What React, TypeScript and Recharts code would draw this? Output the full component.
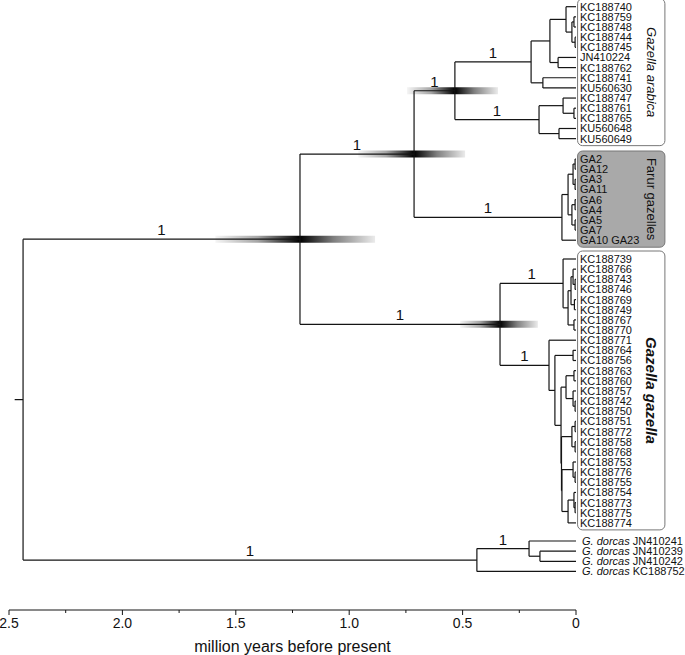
import React from "react";
import { ComposedChart, XAxis, YAxis, ReferenceLine, ReferenceArea, Scatter } from "recharts";

// tip labels, top to bottom
const arabicaTips = ["KC188740", "KC188759", "KC188748", "KC188744", "KC188745", "JN410224", "KC188762", "KC188741", "KU560630", "KC188747", "KC188761", "KC188765", "KU560648", "KU560649"];
const farurTips = ["GA2", "GA12", "GA3", "GA11", "GA6", "GA4", "GA5", "GA7", "GA10 GA23"];
const gazellaTips = ["KC188739", "KC188766", "KC188743", "KC188746", "KC188769", "KC188749", "KC188767", "KC188770", "KC188771", "KC188764", "KC188756", "KC188763", "KC188760", "KC188757", "KC188742", "KC188750", "KC188751", "KC188772", "KC188758", "KC188768", "KC188753", "KC188776", "KC188755", "KC188754", "KC188773", "KC188775", "KC188774"];
const dorcasTips = ["JN410241", "JN410239", "JN410242", "KC188752"];

// internal nodes: id, age (million years before present), children
const nodes: [string, number, string[]][] = [
  ["root", 2.438, ["A", "dor"]],
  ["A", 1.217, ["B", "gaz"]],
  ["B", 0.714, ["ara", "far"]],
  ["ara", 0.534, ["ara1", "ara2"]],
  ["ara1", 0.198, ["ara1a", "ara1b"]],
  ["ara1a", 0.115, ["ara1a1", "ara1a2"]],
  ["ara1a1", 0.044, ["KC188740", "ara1a1x"]],
  ["ara1a1x", 0.018, ["ara1s1", "ara1s2"]],
  ["ara1s1", 0.009, ["KC188759", "KC188748"]],
  ["ara1s2", 0.004, ["KC188744", "KC188745"]],
  ["ara1a2", 0.079, ["JN410224", "KC188762"]],
  ["ara1b", 0.146, ["KC188741", "KU560630"]],
  ["ara2", 0.163, ["ara2a", "ara2b"]],
  ["ara2a", 0.057, ["KC188747", "ara2a1"]],
  ["ara2a1", 0.009, ["KC188761", "KC188765"]],
  ["ara2b", 0.075, ["KU560648", "KU560649"]],
  ["far", 0.062, ["far1", "GA10 GA23"]],
  ["far1", 0.035, ["far1a", "far1b"]],
  ["far1a", 0.013, ["far2", "far3"]],
  ["far2", 0.004, ["GA2", "GA12"]],
  ["far3", 0.004, ["GA3", "GA11"]],
  ["far1b", 0.018, ["far4", "far5"]],
  ["far4", 0.004, ["GA6", "GA4"]],
  ["far5", 0.004, ["GA5", "GA7"]],
  ["gaz", 0.335, ["gz1", "gz2"]],
  ["gz1", 0.057, ["KC188739", "gz1a"]],
  ["gz1a", 0.035, ["gz1b", "gz1c"]],
  ["gz1b", 0.022, ["gz1b1", "gz1b2"]],
  ["gz1b1", 0.013, ["KC188766", "gz1b1x"]],
  ["gz1b1x", 0.004, ["KC188743", "KC188746"]],
  ["gz1b2", 0.007, ["KC188769", "KC188749"]],
  ["gz1c", 0.009, ["KC188767", "KC188770"]],
  ["gz2", 0.119, ["KC188771", "gz2a"]],
  ["gz2a", 0.093, ["gz2a1", "gz2b"]],
  ["gz2a1", 0.013, ["KC188764", "KC188756"]],
  ["gz2b", 0.066, ["gz2c", "gz2d"]],
  ["gz2c", 0.044, ["gz2c1", "gz2c2"]],
  ["gz2c1", 0.009, ["KC188763", "KC188760"]],
  ["gz2c2", 0.013, ["KC188757", "gz2c3"]],
  ["gz2c3", 0.004, ["KC188742", "KC188750"]],
  ["gz2d", 0.064, ["gz2e", "gz2f"]],
  ["gz2e", 0.018, ["gz2e1", "gz2e2"]],
  ["gz2e1", 0.004, ["KC188751", "KC188772"]],
  ["gz2e2", 0.004, ["KC188758", "KC188768"]],
  ["gz2f", 0.062, ["gz2g", "gz2h"]],
  ["gz2g", 0.013, ["KC188753", "gz2g1"]],
  ["gz2g1", 0.004, ["KC188776", "KC188755"]],
  ["gz2h", 0.035, ["gz2h1", "KC188774"]],
  ["gz2h1", 0.009, ["KC188754", "gz2h2"]],
  ["gz2h2", 0.004, ["KC188773", "KC188775"]],
  ["dor", 0.437, ["dor1", "KC188752"]],
  ["dor1", 0.207, ["JN410241", "dor2"]],
  ["dor2", 0.159, ["JN410239", "JN410242"]],
];
const rootStemAge = 2.475;

// posterior support on the branch leading to each node
const supportNodes = ["A", "dor", "B", "gaz", "ara", "far", "ara1", "ara2", "gz1", "gz2", "dor1"];
const supportValues = [1, 1, 1, 1, 1, 1, 1, 1, 1, 1, 1];

// 95% HPD of node ages
const hpdNodes = ["A", "B", "ara", "gaz"];
const hpdUpper = [1.59, 0.96, 0.745, 0.511];
const hpdLower = [0.886, 0.489, 0.344, 0.168];

const ticks = [0, 0.25, 0.5, 0.75, 1, 1.25, 1.5, 1.75, 2, 2.25, 2.5];

// layout
const ROW = 10.15;
const groups = [
  { key: "ara", tips: arabicaTips, top: 6.7, label: "Gazella arabica", fill: "#fff", style: "italic", weight: "normal", size: 13 },
  { key: "far", tips: farurTips, top: 159, label: "Farur gazelles", fill: "#a9a9a9", style: "normal", weight: "normal", size: 13 },
  { key: "gaz", tips: gazellaTips, top: 259, label: "Gazella gazella", fill: "#fff", style: "italic", weight: "bold", size: 15 },
  { key: "dor", tips: dorcasTips, top: 541, label: "", fill: "none", style: "normal", weight: "normal", size: 0 },
];
const BOX_X = [-0.007, -0.392];
const INK = "#141414";

const yOf: Record<string, number> = {};
const ageOf: Record<string, number> = {};
const kids: Record<string, string[]> = {};
const tipData: { x: number; y: number; name: string; dorcas: boolean }[] = [];
groups.forEach((g) =>
  g.tips.forEach((t, i) => {
    yOf[t] = g.top + i * ROW;
    ageOf[t] = 0;
    tipData.push({ x: 0, y: yOf[t], name: t, dorcas: g.key === "dor" });
  })
);
nodes.forEach(([id, age, ch]) => {
  ageOf[id] = age;
  kids[id] = ch;
});
function place(id: string): number {
  if (yOf[id] !== undefined) return yOf[id];
  const ys = kids[id].map(place);
  yOf[id] = ys.reduce((a, b) => a + b, 0) / ys.length;
  return yOf[id];
}
place("root");

const supportOf: Record<string, number> = {};
supportNodes.forEach((n, i) => (supportOf[n] = supportValues[i]));

type Seg = { key: string; a: { x: number; y: number }; b: { x: number; y: number }; support?: number };
const segs: Seg[] = [];
nodes.forEach(([id, age, ch]) => {
  const ys = ch.map((c) => yOf[c]);
  segs.push({ key: id + "-v", a: { x: age, y: Math.min(...ys) }, b: { x: age, y: Math.max(...ys) } });
  ch.forEach((c) =>
    segs.push({ key: c + "-h", a: { x: age, y: yOf[c] }, b: { x: ageOf[c], y: yOf[c] }, support: supportOf[c] })
  );
});
segs.push({ key: "stem", a: { x: rootStemAge, y: yOf.root }, b: { x: ageOf.root, y: yOf.root } });

function AxisTick(props: any) {
  const { x, y, payload } = props;
  const v = payload.value as number;
  const major = Math.abs(v * 2 - Math.round(v * 2)) < 1e-6;
  return (
    <g>
      <line x1={x} x2={x} y1={y} y2={y + (major ? 5 : 3)} stroke={INK} />
      {major && (
        <text x={x} y={y + 18} textAnchor="middle" fontSize={14} fill="#111">
          {v === 0 ? "0" : v.toFixed(1)}
        </text>
      )}
    </g>
  );
}

function TipLabel(props: any) {
  const { cx, cy, payload } = props;
  return (
    <text x={cx + (payload.dorcas ? 6 : 4)} y={cy} dy="0.36em" fontSize={11} fill="#111">
      {payload.dorcas && <tspan fontStyle="italic">G. dorcas </tspan>}
      {payload.name}
    </text>
  );
}

function cladeBox(g: (typeof groups)[number]) {
  return (p: any) => (
    <g>
      <rect x={p.x} y={p.y} width={p.width} height={p.height} rx={5} ry={5} fill={g.fill} stroke="#777" strokeWidth={1} />
      <text
        x={0}
        y={0}
        transform={`translate(${p.x + p.width - 13},${p.y + p.height / 2}) rotate(90)`}
        textAnchor="middle"
        dy="0.36em"
        fontSize={g.size}
        fontStyle={g.style}
        fontWeight={g.weight}
        fill="#111"
      >
        {g.label}
      </text>
    </g>
  );
}

export default function App() {
  return (
    <div style={{ position: "absolute", left: 0, top: 0, fontFamily: "'Liberation Sans', Arial, sans-serif" }}>
      <ComposedChart width={685} height={655} margin={{ top: 0, right: 109, bottom: 0, left: 9 }}>
        <defs>
          {hpdNodes.map((n, i) => {
            const p = (hpdUpper[i] - ageOf[n]) / (hpdUpper[i] - hpdLower[i]);
            return (
              <linearGradient key={n} id={`hpd-${n}`} x1="0" x2="1" y1="0" y2="0">
                <stop offset={0} stopColor="#000" stopOpacity={0.04} />
                <stop offset={p * 0.5} stopColor="#000" stopOpacity={0.35} />
                <stop offset={p} stopColor="#000" stopOpacity={1} />
                <stop offset={p + (1 - p) * 0.45} stopColor="#000" stopOpacity={0.5} />
                <stop offset={1} stopColor="#000" stopOpacity={0.08} />
              </linearGradient>
            );
          })}
        </defs>
        <XAxis
          type="number"
          dataKey="x"
          domain={[0, 2.5]}
          reversed
          ticks={ticks}
          interval={0}
          height={45}
          tickLine={false}
          tickSize={0}
          tickMargin={0}
          axisLine={{ stroke: INK }}
          tick={<AxisTick />}
          label={{ value: "million years before present", position: "insideBottom", offset: 3, fontSize: 16, fill: "#111" }}
        />
        <YAxis type="number" dataKey="y" domain={[0, 610]} reversed hide width={0} />
        {groups
          .filter((g) => g.label)
          .map((g) => (
            <ReferenceArea
              key={`box-${g.key}`}
              x1={BOX_X[0]}
              x2={BOX_X[1]}
              y1={yOf[g.tips[0]] - 8}
              y2={yOf[g.tips[g.tips.length - 1]] + 7}
              ifOverflow="visible"
              shape={cladeBox(g)}
            />
          ))}
        {hpdNodes.map((n, i) => (
          <ReferenceArea
            key={`hpd-${n}`}
            x1={hpdUpper[i]}
            x2={hpdLower[i]}
            y1={yOf[n] - 3.5}
            y2={yOf[n] + 3.5}
            fill={`url(#hpd-${n})`}
            fillOpacity={1}
            stroke="none"
            ifOverflow="visible"
          />
        ))}
        {segs.map((s) => (
          <ReferenceLine
            key={s.key}
            segment={[s.a, s.b]}
            stroke={INK}
            strokeWidth={1.2}
            ifOverflow="visible"
            label={s.support !== undefined ? { value: String(s.support), position: "top", fontSize: 15, fill: "#111", offset: 4 } : undefined}
          />
        ))}
        <Scatter data={tipData} shape={<TipLabel />} isAnimationActive={false} />
      </ComposedChart>
    </div>
  );
}
